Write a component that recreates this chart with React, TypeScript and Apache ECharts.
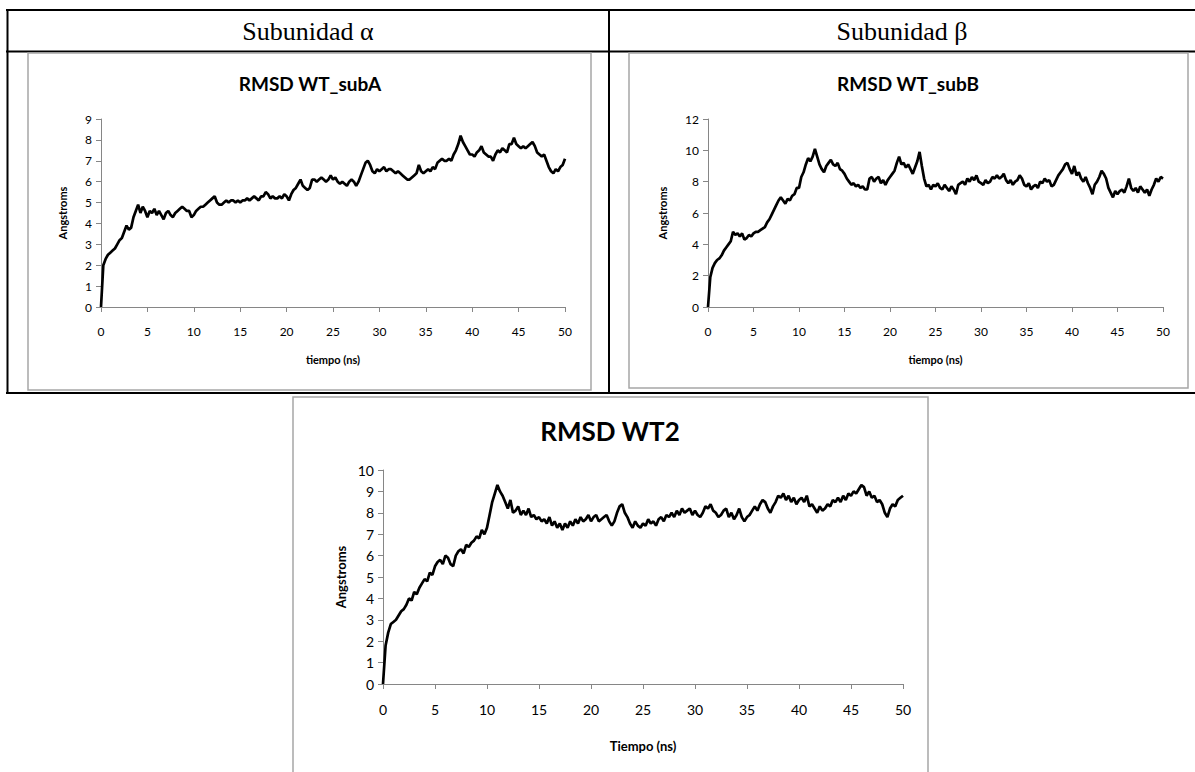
import React, { useEffect, useRef } from "react";
import * as echarts from "echarts";

// sampling interval of the traces (ns)
const STEP = 0.25;

// RMSD of subunit alpha (Angstroms), one value every 0.25 ns from 0 to 50 ns
const subA = [
  0, 2.0, 2.3, 2.5, 2.6, 2.7, 2.8, 3.0, 3.2, 3.3, 3.6, 3.9, 3.7, 3.8, 4.3, 4.6, 4.9, 4.5, 4.8, 4.6,
  4.3, 4.6, 4.5, 4.7, 4.4, 4.6, 4.4, 4.2, 4.5, 4.6, 4.4, 4.3, 4.5, 4.6, 4.7, 4.8, 4.7, 4.6, 4.6, 4.3,
  4.4, 4.6, 4.7, 4.8, 4.8, 4.9, 5.0, 5.1, 5.2, 5.3, 5.0, 4.9, 4.9, 5.0, 5.1, 5.0, 5.1, 5.1, 5.0, 5.1,
  5.0, 5.1, 5.1, 5.2, 5.1, 5.2, 5.3, 5.2, 5.1, 5.3, 5.3, 5.5, 5.4, 5.2, 5.3, 5.2, 5.2, 5.3, 5.2, 5.4,
  5.3, 5.1, 5.4, 5.6, 5.7, 5.9, 6.1, 5.8, 5.7, 5.6, 5.7, 6.1, 6.1, 6.0, 6.1, 6.2, 6.1, 6.0, 6.1, 6.3,
  6.1, 6.2, 6.0, 5.9, 6.0, 5.9, 5.8, 6.0, 6.1, 6.0, 5.8, 6.0, 6.3, 6.6, 6.9, 7.0, 6.8, 6.5, 6.4, 6.6,
  6.5, 6.6, 6.7, 6.5, 6.6, 6.6, 6.5, 6.4, 6.5, 6.4, 6.3, 6.2, 6.1, 6.1, 6.2, 6.3, 6.4, 6.8, 6.5, 6.4,
  6.5, 6.6, 6.5, 6.7, 6.6, 6.9, 7.0, 7.1, 7.0, 7.0, 7.1, 7.0, 7.3, 7.5, 7.8, 8.2, 7.9, 7.7, 7.5, 7.3,
  7.3, 7.2, 7.4, 7.5, 7.7, 7.4, 7.3, 7.2, 7.2, 7.0, 7.3, 7.5, 7.4, 7.6, 7.5, 7.4, 7.8, 7.8, 8.1, 7.8,
  7.7, 7.6, 7.7, 7.6, 7.7, 7.8, 7.9, 7.7, 7.4, 7.3, 7.2, 7.3, 7.0, 6.7, 6.5, 6.4, 6.6, 6.5, 6.7, 6.8,
  7.1,
];

// RMSD of subunit beta (Angstroms)
const subB = [
  0, 1.9, 2.5, 2.8, 3.0, 3.1, 3.3, 3.6, 3.8, 4.0, 4.2, 4.8, 4.6, 4.7, 4.5, 4.7, 4.3, 4.4, 4.6, 4.5,
  4.7, 4.8, 4.8, 4.9, 5.0, 5.1, 5.4, 5.6, 5.9, 6.2, 6.5, 6.8, 7.0, 6.8, 6.6, 6.9, 6.8, 7.1, 7.2, 7.6,
  7.6, 8.3, 8.6, 9.1, 9.5, 9.3, 9.6, 10.1, 9.6, 9.1, 8.8, 8.6, 9.0, 9.2, 9.4, 9.1, 9.0, 9.2, 8.8, 8.7,
  8.5, 8.2, 8.0, 7.8, 7.9, 7.7, 7.8, 7.6, 7.7, 7.5, 7.5, 8.2, 8.3, 8.0, 8.2, 8.3, 7.9, 8.1, 7.8, 8.1,
  8.3, 8.5, 8.7, 9.2, 9.6, 9.1, 9.2, 8.9, 9.1, 8.8, 8.5, 8.9, 9.3, 9.9, 9.0, 8.2, 7.7, 7.8, 7.5, 7.8,
  7.7, 7.9, 7.6, 7.5, 7.8, 7.6, 7.4, 7.7, 7.5, 7.2, 7.8, 7.9, 8.0, 7.8, 8.2, 8.0, 8.3, 8.1, 8.4, 8.0,
  7.9, 7.8, 8.1, 7.9, 8.0, 8.3, 8.2, 8.4, 8.2, 8.3, 8.5, 8.1, 7.9, 8.1, 7.8, 8.0, 8.1, 8.4, 8.2, 7.8,
  7.7, 7.9, 7.5, 7.7, 7.8, 7.6, 8.0, 7.9, 8.2, 8.0, 8.1, 7.7, 7.8, 8.1, 8.4, 8.6, 8.8, 9.1, 9.2, 8.8,
  8.5, 9.0, 8.4, 8.6, 8.2, 8.0, 8.3, 7.9, 7.6, 7.2, 7.8, 8.0, 8.3, 8.7, 8.5, 8.2, 7.6, 7.3, 7.0, 7.4,
  7.2, 7.4, 7.5, 7.3, 7.7, 8.2, 7.6, 7.4, 7.6, 7.3, 7.7, 7.5, 7.3, 7.5, 7.1, 7.5, 7.8, 8.2, 8.0, 8.3,
  8.2,
];

// RMSD of the whole WT2 protein (Angstroms)
const wt2 = [
  0, 1.8, 2.4, 2.8, 2.9, 3.0, 3.2, 3.4, 3.5, 3.7, 4.0, 3.9, 4.3, 4.2, 4.5, 4.7, 4.9, 4.8, 5.2, 5.1,
  5.5, 5.7, 5.8, 5.6, 6.0, 5.9, 5.6, 5.5, 6.0, 6.2, 6.3, 6.1, 6.5, 6.4, 6.6, 6.7, 6.9, 6.8, 7.2, 7.0,
  7.3, 7.9, 8.5, 8.9, 9.3, 9.0, 8.8, 8.5, 8.2, 8.6, 8.0, 8.1, 8.3, 7.9, 8.1, 7.9, 8.2, 7.8, 7.9, 7.7,
  7.8, 7.6, 7.7, 7.5, 7.8, 7.4, 7.6, 7.3, 7.5, 7.2, 7.5, 7.3, 7.6, 7.4, 7.7, 7.5, 7.8, 7.6, 7.7, 7.9,
  7.6, 7.8, 7.9, 7.6, 7.7, 7.8, 7.9, 7.6, 7.4, 7.6, 8.0, 8.3, 8.4, 8.0, 7.8, 7.5, 7.3, 7.6, 7.4, 7.3,
  7.5, 7.4, 7.7, 7.5, 7.6, 7.4, 7.7, 7.8, 7.6, 7.9, 7.8, 8.0, 7.8, 8.1, 7.9, 8.2, 8.0, 8.1, 8.2, 7.9,
  8.1, 7.9, 7.8, 8.0, 8.3, 8.2, 8.4, 8.1, 8.0, 7.8, 7.9, 8.1, 8.2, 7.8, 8.0, 7.7, 7.9, 8.2, 7.8, 7.6,
  7.8, 7.9, 8.1, 8.3, 8.1, 8.4, 8.6, 8.5, 8.2, 8.0, 8.3, 8.5, 8.8, 8.7, 8.9, 8.6, 8.8, 8.5, 8.7, 8.4,
  8.6, 8.7, 8.5, 8.8, 8.3, 8.4, 8.2, 8.0, 8.3, 8.1, 8.2, 8.4, 8.3, 8.6, 8.5, 8.7, 8.5, 8.8, 8.6, 8.9,
  8.8, 9.0, 8.9, 9.1, 9.3, 9.2, 8.8, 9.0, 8.7, 8.8, 8.5, 8.6, 8.4, 8.0, 7.8, 8.2, 8.4, 8.3, 8.6, 8.7,
  8.8,
];

const headers = ["Subunidad α", "Subunidad β"];
const titles = ["RMSD WT_subA", "RMSD WT_subB", "RMSD WT2"];
const xNames = ["tiempo (ns)", "tiempo (ns)", "Tiempo (ns)"];
const yName = "Angstroms";
const yMax = [9, 12, 10];
const yInterval = [1, 2, 1];

const FONT = "Lato, 'Open Sans', sans-serif";
const GRAY = "#868686";
const BOX = "#a6a6a6";

function pairs(vals: number[]) {
  return vals.map((v, i) => [i * STEP, v]);
}

export default function App() {
  const ref = useRef<HTMLDivElement>(null);

  useEffect(() => {
    if (!ref.current) return;
    const chart = echarts.init(ref.current, undefined, { renderer: "svg" });

    const grids = [
      { left: 101, top: 119, width: 464, height: 188 },
      { left: 708, top: 119, width: 455, height: 188 },
      { left: 383, top: 470, width: 520, height: 214 },
    ];
    const fs = [12, 12, 14];
    const nameFs = [11, 11, 13];
    const xNameGap = [47, 47, 55];
    const yNameGap = [33, 40, 36];

    const xAxis = grids.map((_, i) => ({
      gridIndex: i,
      type: "value",
      min: 0,
      max: 50,
      interval: 5,
      name: xNames[i],
      nameLocation: "middle",
      nameGap: xNameGap[i],
      nameTextStyle: { fontWeight: "bold", fontSize: nameFs[i], color: "#000", fontFamily: FONT },
      axisLine: { show: true, onZero: false, lineStyle: { color: GRAY, width: 1 } },
      axisTick: { show: true, length: 5, lineStyle: { color: GRAY } },
      axisLabel: { margin: 18, fontSize: fs[i], color: "#000", fontFamily: FONT },
      splitLine: { show: false },
    }));

    const yAxis = grids.map((_, i) => ({
      gridIndex: i,
      type: "value",
      min: 0,
      max: yMax[i],
      interval: yInterval[i],
      name: yName,
      nameLocation: "middle",
      nameGap: yNameGap[i],
      nameTextStyle: { fontWeight: "bold", fontSize: nameFs[i], color: "#000", fontFamily: FONT },
      axisLine: { show: true, lineStyle: { color: GRAY, width: 1 } },
      axisTick: { show: true, length: 5, lineStyle: { color: GRAY } },
      axisLabel: { margin: 9, fontSize: fs[i], color: "#000", fontFamily: FONT },
      splitLine: { show: false },
    }));

    const datasets = [subA, subB, wt2];
    const series = datasets.map((d, i) => ({
      type: "line",
      xAxisIndex: i,
      yAxisIndex: i,
      data: pairs(d),
      showSymbol: false,
      symbol: "none",
      lineStyle: { color: "#000", width: 2.7 },
      itemStyle: { color: "#000" },
    }));

    const blk = { stroke: "#000", lineWidth: 2 };
    const graphic: any[] = [
      // table borders
      { type: "line", shape: { x1: 6, y1: 10, x2: 1195, y2: 10 }, style: blk },
      { type: "line", shape: { x1: 6, y1: 51.5, x2: 1195, y2: 51.5 }, style: blk },
      { type: "line", shape: { x1: 6, y1: 393, x2: 1195, y2: 393 }, style: blk },
      { type: "line", shape: { x1: 7.5, y1: 9, x2: 7.5, y2: 394 }, style: blk },
      { type: "line", shape: { x1: 609, y1: 9, x2: 609, y2: 394 }, style: blk },
      // chart frames
      { type: "rect", shape: { x: 28, y: 53, width: 563, height: 337 }, style: { fill: "none", stroke: BOX, lineWidth: 1.5 } },
      { type: "rect", shape: { x: 629, y: 53, width: 559, height: 335 }, style: { fill: "none", stroke: BOX, lineWidth: 1.5 } },
      { type: "rect", shape: { x: 293, y: 397, width: 635, height: 420 }, style: { fill: "none", stroke: BOX, lineWidth: 1.5 } },
      // headers
      {
        type: "text", x: 308, y: 31,
        style: { text: headers[0], fontSize: 26, fontFamily: "'Liberation Serif', serif", fill: "#000", align: "center", verticalAlign: "middle" },
      },
      {
        type: "text", x: 902, y: 31,
        style: { text: headers[1], fontSize: 26, fontFamily: "'Liberation Serif', serif", fill: "#000", align: "center", verticalAlign: "middle" },
      },
      // chart titles
      {
        type: "text", x: 310, y: 83,
        style: { text: titles[0], fontSize: 19, fontWeight: "bold", fontFamily: FONT, fill: "#000", align: "center", verticalAlign: "middle" },
      },
      {
        type: "text", x: 908, y: 83,
        style: { text: titles[1], fontSize: 19, fontWeight: "bold", fontFamily: FONT, fill: "#000", align: "center", verticalAlign: "middle" },
      },
      {
        type: "text", x: 610, y: 431,
        style: { text: titles[2], fontSize: 26, fontWeight: "bold", fontFamily: FONT, fill: "#000", align: "center", verticalAlign: "middle" },
      },
    ];

    chart.setOption({
      animation: false,
      backgroundColor: "#fff",
      grid: grids,
      xAxis,
      yAxis,
      series,
      graphic,
    } as any);

    return () => chart.dispose();
  }, []);

  return (
    <div
      ref={ref}
      style={{ position: "absolute", left: 0, top: 0, width: 1195, height: 772, background: "#fff" }}
    />
  );
}
